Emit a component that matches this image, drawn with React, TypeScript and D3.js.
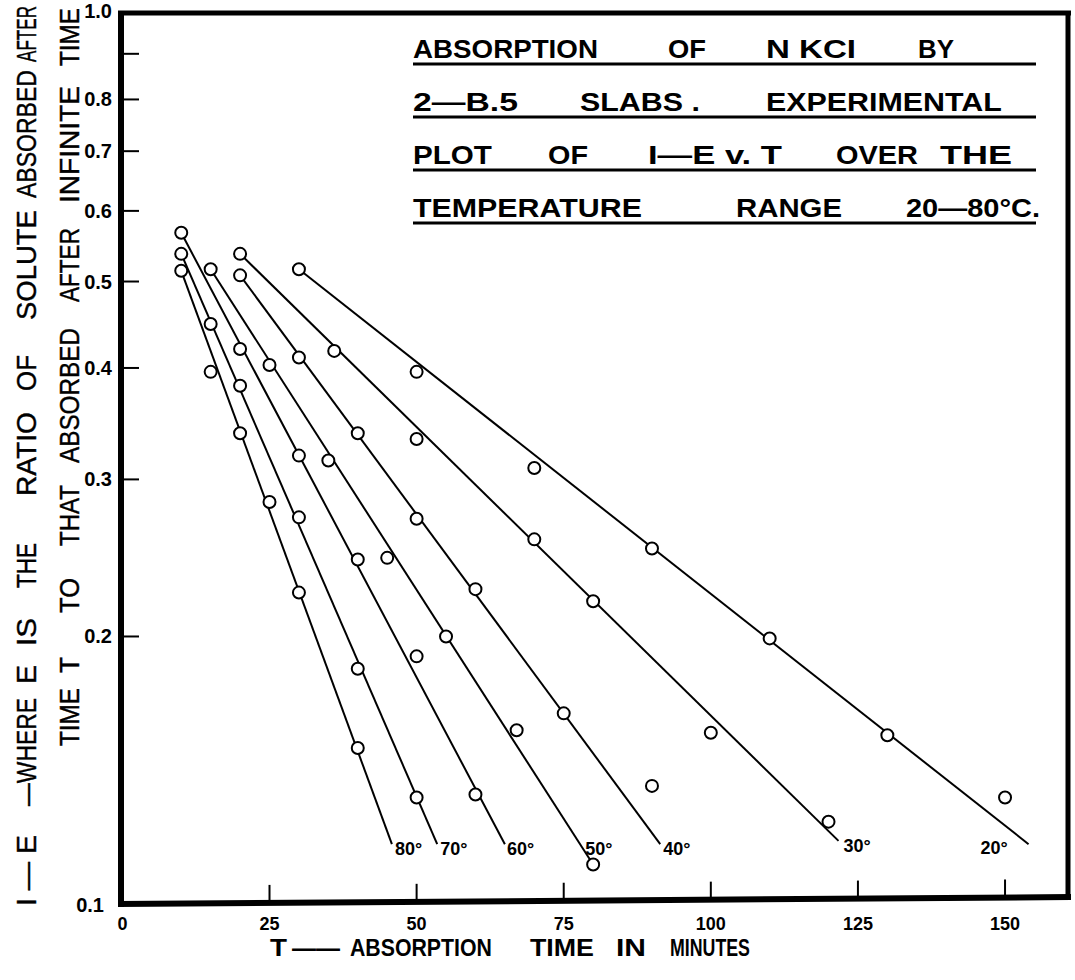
import React, { useLayoutEffect, useRef, useState } from 'react';
import * as d3 from 'd3';

// temperature of each run
const temps = ['80°', '70°', '60°', '50°', '40°', '30°', '20°'];

// absorption time T (minutes) and 1 - E
const t80 = [10, 15, 20, 25, 30, 40];
const v80 = [0.514, 0.396, 0.338, 0.283, 0.224, 0.150];
const t70 = [10, 15, 20, 30, 40, 50];
const v70 = [0.537, 0.448, 0.382, 0.272, 0.184, 0.132];
const t60 = [10, 20, 30, 40, 50, 60];
const v60 = [0.567, 0.420, 0.319, 0.244, 0.190, 0.133];
const t50 = [15, 25, 35, 45, 55, 67, 80];
const v50 = [0.516, 0.403, 0.315, 0.245, 0.200, 0.157, 0.111];
const t40 = [20, 30, 40, 50, 60, 75, 90];
const v40 = [0.508, 0.411, 0.338, 0.271, 0.226, 0.164, 0.136];
const t30 = [20, 36, 50, 70, 80, 100, 120];
const v30 = [0.537, 0.418, 0.333, 0.257, 0.219, 0.156, 0.124];
const t20 = [30, 50, 70, 90, 110, 130, 150];
const v20 = [0.516, 0.396, 0.309, 0.251, 0.199, 0.155, 0.132];

// hand drawn straight lines: start and end of each
const lineStartT = [10, 10, 10, 15, 20, 20, 30];
const lineStartV = [0.514, 0.537, 0.567, 0.516, 0.508, 0.537, 0.516];
const lineEndT = [45.8, 53.5, 65, 80, 91.4, 121.7, 154];
const lineEndV = [0.117, 0.117, 0.117, 0.111, 0.117, 0.118, 0.117];

const yTicks = [0.9, 0.8, 0.7, 0.6, 0.5, 0.4, 0.3, 0.2];
const yLabels = ['1.0', '0.8', '0.7', '0.6', '0.5', '0.4', '0.3', '0.2', '0.1'];
const xTicks = [25, 50, 75, 100, 125, 150];
const xLabels = [0, 25, 50, 75, 100, 125, 150];

const titleLines = [
  ['ABSORPTION', 'OF', 'N KCI', 'BY'],
  ['2—B.5', 'SLABS .', 'EXPERIMENTAL'],
  ['PLOT', 'OF', 'I—E v. T', 'OVER', 'THE'],
  ['TEMPERATURE', 'RANGE', '20—80°C.'],
];
const yTitle1 = ['I — E', '—WHERE', 'E', 'IS', 'THE', 'RATIO', 'OF', 'SOLUTE', 'ABSORBED', 'AFTER'];
const yTitle2 = ['TIME', 'T', 'TO', 'THAT', 'ABSORBED', 'AFTER', 'INFINITE', 'TIME'];
const xTitle = ['T', '——', 'ABSORPTION', 'TIME', 'IN', 'MINUTES'];

// layout (pixel extents of the lettering)
const titleSpans = [
  [[413, 598], [668, 706], [766, 856], [918, 954]],
  [[413, 518], [580, 700], [766, 1002]],
  [[413, 492], [548, 588], [648, 782], [836, 918], [940, 1012]],
  [[413, 642], [736, 842], [906, 1040]],
];
const titleBase = [58, 111, 164, 217];
const yTitle1Spans = [[906, 835], [806, 698], [684, 665], [646, 618], [588, 543], [496, 412], [391, 355], [320, 210], [198, 70], [62, 6]];
const yTitle2Spans = [[746, 688], [673, 657], [613, 578], [546, 485], [463, 328], [302, 228], [203, 86], [66, 8]];
const xTitleSpans = [[270, 287], [292, 340], [350, 492], [530, 594], [616, 646], [670, 750]];

const bold = { fontFamily: '"Liberation Sans", Arial, sans-serif', fontWeight: 700 };
const plain = { fontFamily: '"Liberation Sans", Arial, sans-serif', fontWeight: 400, stroke: '#000', strokeWidth: 0.4 };

// text squeezed to a given length with a horizontal scale
const FitText = ({ x, y, len, rotate = false, size, font, children }: any) => {
  const ref = useRef<SVGTextElement>(null);
  const [k, setK] = useState(1);
  useLayoutEffect(() => {
    if (ref.current) {
      const w = ref.current.getComputedTextLength();
      if (w > 0) setK(len / w);
    }
  }, [len, children]);
  return (
    <g transform={`translate(${x},${y})${rotate ? ' rotate(-90)' : ''} scale(${k},1)`}>
      <text ref={ref} x={0} y={0} fontSize={size} {...font}>{children}</text>
    </g>
  );
};

const App = () => {
  const W = 1075, H = 980;
  const x = d3.scaleLinear().domain([0, 160.7]).range([122.4, 1068]);
  const y = d3.scaleLog().domain([0.1, 1]).range([905, 13]);

  const ts = [t80, t70, t60, t50, t40, t30, t20];
  const vs = [v80, v70, v60, v50, v40, v30, v20];

  const line = d3.line<[number, number]>().x(d => x(d[0])).y(d => y(d[1]));

  // bottom axis is drawn slightly off level
  const axisY = (px: number) => 904 - (px - 120) * (7 / 950);

  // label offsets relative to line ends
  const labelDx = [3, 3, 2, -8, 3, 5, -48];
  const labelDy = [11, 11, 11, -10, 11, 11, 10];

  return (
    <svg width={W} height={H} style={{ display: 'block', background: '#fff' }}>
      <style>{'body{margin:0}'}</style>
      <rect width={W} height={H} fill="#fff" />

      {/* frame */}
      <line x1={118} x2={1071} y1={13} y2={13} stroke="#000" strokeWidth={5} />
      <line x1={1068} x2={1068} y1={11} y2={899} stroke="#000" strokeWidth={5} />
      <line x1={121} x2={121} y1={11} y2={907} stroke="#000" strokeWidth={6} />
      <line x1={118} x2={1071} y1={axisY(118)} y2={axisY(1071)} stroke="#000" strokeWidth={6} />

      {/* y ticks and labels */}
      {yTicks.map(v => (
        <line key={v} x1={121} x2={139} y1={y(v)} y2={y(v)} stroke="#000" strokeWidth={2} />
      ))}
      {yLabels.map((s, i) => {
        const v = +s;
        return (
          <text key={s} x={i === yLabels.length - 1 ? 104 : 112} y={y(v) + (i === 0 ? 5 : 7)}
            textAnchor="end" fontSize={20} {...bold}>{s}</text>
        );
      })}

      {/* x ticks and labels */}
      {xTicks.map(t => (
        <line key={t} x1={x(t)} x2={x(t)} y1={axisY(x(t))} y2={axisY(x(t)) - 18} stroke="#000" strokeWidth={2} />
      ))}
      {xLabels.map(t => (
        <text key={t} x={x(t)} y={930} textAnchor="middle" fontSize={18} {...bold}>{t}</text>
      ))}

      {/* fitted lines */}
      {temps.map((lab, i) => (
        <path key={lab} d={line([[lineStartT[i], lineStartV[i]], [lineEndT[i], lineEndV[i]]]) || ''}
          fill="none" stroke="#000" strokeWidth={2} />
      ))}

      {/* observations */}
      {temps.map((lab, i) => ts[i].map((t, j) => (
        <circle key={lab + j} cx={x(t)} cy={y(vs[i][j])} r={6} fill="#fff" stroke="#000" strokeWidth={2} />
      )))}

      {/* temperature labels */}
      {temps.map((lab, i) => (
        <text key={lab} x={x(lineEndT[i]) + labelDx[i]} y={y(lineEndV[i]) + labelDy[i]}
          fontSize={18} {...bold}>{lab}</text>
      ))}

      {/* title block */}
      {titleLines.map((words, li) => (
        <g key={li}>
          {words.map((w, wi) => (
            <FitText key={wi} x={titleSpans[li][wi][0]} y={titleBase[li]}
              len={titleSpans[li][wi][1] - titleSpans[li][wi][0]} size={26} font={bold}>{w}</FitText>
          ))}
          <line x1={413} x2={1036} y1={titleBase[li] + 6} y2={titleBase[li] + 6} stroke="#000" strokeWidth={3} />
        </g>
      ))}

      {/* y axis title, two columns */}
      {yTitle1.map((w, i) => (
        <FitText key={'a' + i} x={36} y={yTitle1Spans[i][0]} rotate
          len={yTitle1Spans[i][0] - yTitle1Spans[i][1]} size={28} font={plain}>{w}</FitText>
      ))}
      {yTitle2.map((w, i) => (
        <FitText key={'b' + i} x={79} y={yTitle2Spans[i][0]} rotate
          len={yTitle2Spans[i][0] - yTitle2Spans[i][1]} size={28} font={plain}>{w}</FitText>
      ))}

      {/* x axis title */}
      {xTitle.map((w, i) => (
        <FitText key={'x' + i} x={xTitleSpans[i][0]} y={956}
          len={xTitleSpans[i][1] - xTitleSpans[i][0]} size={24} font={bold}>{w}</FitText>
      ))}
    </svg>
  );
};

export default App;
